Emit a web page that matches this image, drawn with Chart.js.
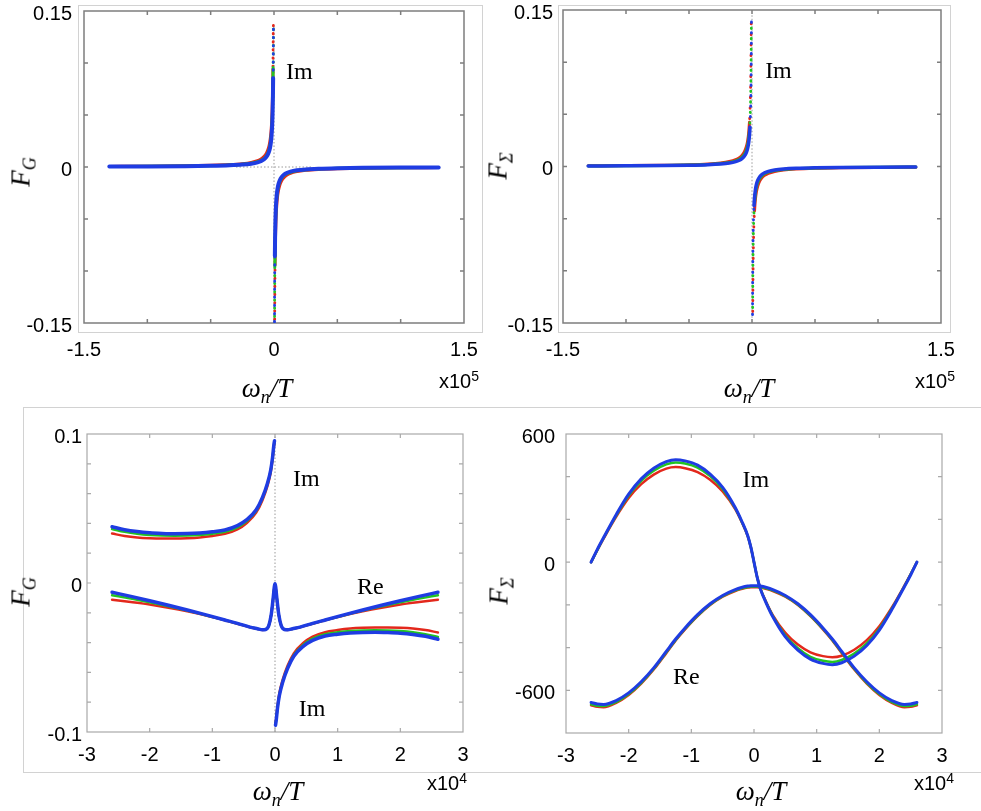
<!DOCTYPE html>
<html><head><meta charset="utf-8">
<script src="https://cdn.jsdelivr.net/npm/chart.js@4.4.1/dist/chart.umd.min.js"></script>
<style>
body{margin:0;background:#fff;width:981px;height:811px;position:relative;overflow:hidden;font-family:"Liberation Sans",Arial,sans-serif;}
canvas{position:absolute;}
.frame{position:absolute;border:1px solid #d2d2d2;box-sizing:border-box;}
.hl{position:absolute;height:0;border-top:1px solid #d2d2d2;}
.vl{position:absolute;width:0;border-left:1px solid #d2d2d2;}
.math{position:absolute;font-family:"Liberation Serif","DejaVu Serif",serif;font-style:italic;font-size:27px;color:#000;white-space:nowrap;line-height:1;transform:translate(-50%,-50%);}
.math sub{font-size:18px;vertical-align:-6px;}
.rot{transform:translate(-50%,-50%) rotate(-90deg);}
.mult{position:absolute;font-size:20px;white-space:nowrap;line-height:1;color:#000;transform:translate(-50%,-50%);}
.mult sup{font-size:14px;vertical-align:7px}
</style></head>
<body>
<div class="frame" style="left:78px;top:5px;width:405px;height:328px"></div>
<div class="frame" style="left:558px;top:5px;width:393px;height:328px"></div>
<div class="hl" style="left:23px;top:407px;width:958px"></div>
<div class="hl" style="left:23px;top:772px;width:958px"></div>
<div class="vl" style="left:23px;top:407px;height:366px"></div>

<canvas id="c1" width="500" height="420" style="left:0;top:-20px"></canvas>
<canvas id="c2" width="491" height="420" style="left:490px;top:-20px"></canvas>
<canvas id="c3" width="490" height="411" style="left:0;top:400px"></canvas>
<canvas id="c4" width="491" height="411" style="left:490px;top:400px"></canvas>

<div class="math" style="left:267px;top:390px">ω<sub>n</sub>/T</div>
<div class="math" style="left:749px;top:390px">ω<sub>n</sub>/T</div>
<div class="math" style="left:278px;top:793px">ω<sub>n</sub>/T</div>
<div class="math" style="left:761px;top:793px">ω<sub>n</sub>/T</div>
<div class="mult" style="left:459px;top:380px">x10<sup>5</sup></div>
<div class="mult" style="left:935px;top:380px">x10<sup>5</sup></div>
<div class="mult" style="left:447px;top:782px">x10<sup>4</sup></div>
<div class="mult" style="left:934px;top:782px">x10<sup>4</sup></div>
<div class="math rot" style="left:23px;top:172px">F<sub>G</sub></div>
<div class="math rot" style="left:500px;top:166px">F<sub>Σ</sub></div>
<div class="math rot" style="left:23px;top:592px">F<sub>G</sub></div>
<div class="math rot" style="left:501px;top:591px">F<sub>Σ</sub></div>

<script>
// ================= DATA =================
// Panel 1 (top-left): F_G, Im part, x in units of 1e5
const p1XNeg = [-1.3, -1.0, -0.7, -0.5, -0.35, -0.25, -0.18, -0.13, -0.1, -0.08, -0.06, -0.045, -0.035, -0.027, -0.02, -0.015, -0.011, -0.0085, -0.0068, -0.0055, -0.0047, -0.0043];
const p1BlueNeg  = [0.00045, 0.00058, 0.00083, 0.00116, 0.00166, 0.00232, 0.00322, 0.00446, 0.0058, 0.00725, 0.00967, 0.0129, 0.0166, 0.0215, 0.029, 0.0387, 0.0527, 0.0682, 0.0853, 0.1055, 0.1234, 0.135];
const p1GreenNeg = [0.0005, 0.00065, 0.00093, 0.0013, 0.00186, 0.0026, 0.00361, 0.005, 0.0065, 0.00813, 0.0108, 0.0144, 0.0186, 0.0241, 0.0325, 0.0433, 0.0591, 0.0765, 0.0956, 0.1182, 0.133, 0.136];
const p1RedNeg   = [0.0006, 0.0008, 0.00114, 0.0016, 0.00229, 0.0032, 0.00444, 0.00615, 0.008, 0.01, 0.0133, 0.0178, 0.0229, 0.0296, 0.04, 0.0533, 0.0727, 0.0941, 0.1176, 0.135, 0.136, 0.1365];
const p1XPos = [0.0043, 0.0047, 0.0055, 0.0068, 0.0085, 0.011, 0.015, 0.02, 0.027, 0.035, 0.045, 0.06, 0.08, 0.1, 0.13, 0.18, 0.25, 0.35, 0.5, 0.7, 1.0, 1.3];
const p1BluePos  = [-0.149, -0.1234, -0.1055, -0.0853, -0.0682, -0.0527, -0.0387, -0.029, -0.0215, -0.0166, -0.0129, -0.00967, -0.00725, -0.0058, -0.00446, -0.00322, -0.00232, -0.00166, -0.00116, -0.00083, -0.00058, -0.00045];
const p1GreenPos = [-0.149, -0.1383, -0.1182, -0.0956, -0.0765, -0.0591, -0.0433, -0.0325, -0.0241, -0.0186, -0.0144, -0.0108, -0.00813, -0.0065, -0.005, -0.00361, -0.0026, -0.00186, -0.0013, -0.00093, -0.00065, -0.0005];
const p1RedPos   = [-0.149, -0.148, -0.1455, -0.1176, -0.0941, -0.0727, -0.0533, -0.04, -0.0296, -0.0229, -0.0178, -0.0133, -0.01, -0.008, -0.00615, -0.00444, -0.0032, -0.00229, -0.0016, -0.00114, -0.0008, -0.0006];
const p1ZeroVX = [0, 0];
const p1ZeroVY = [-0.149, 0.136];
const p1ZeroHX = [-0.3, 0.3];
const p1ZeroHY = [0, 0];
const p1XTickVals = [-1.5, 0, 1.5];
const p1XTickText = ['-1.5', '0', '1.5'];
const p1YTickVals = [-0.15, 0, 0.15];
const p1YTickText = ['-0.15', '0', '0.15'];

// Panel 2 (top-right): F_Sigma, Im part, x in units of 1e5
const p2XNeg = [-1.3, -1.0, -0.7, -0.5, -0.35, -0.25, -0.18, -0.13, -0.1, -0.08, -0.06, -0.045, -0.035, -0.027, -0.02, -0.016, -0.012, -0.009, -0.007, -0.0055, -0.0045, -0.0042];
const p2BlueNeg  = [0.00046, 0.0006, 0.00086, 0.0012, 0.00171, 0.0024, 0.00333, 0.00462, 0.006, 0.0075, 0.01, 0.0133, 0.0171, 0.0222, 0.030, 0.0375, 0.050, 0.0667, 0.0857, 0.109, 0.133, 0.142];
const p2GreenNeg = [0.00054, 0.0007, 0.001, 0.0014, 0.002, 0.0028, 0.00389, 0.00538, 0.007, 0.00875, 0.0117, 0.0156, 0.02, 0.0259, 0.035, 0.0438, 0.0583, 0.0778, 0.1, 0.1273, 0.142, 0.142];
const p2RedNeg   = [0.00065, 0.00085, 0.00121, 0.0017, 0.00243, 0.0034, 0.00472, 0.00654, 0.0085, 0.0106, 0.0142, 0.0189, 0.0243, 0.0315, 0.0425, 0.0531, 0.0708, 0.0944, 0.1214, 0.142, 0.142, 0.142];
const p2XPos = [0.0042, 0.0045, 0.0055, 0.007, 0.009, 0.012, 0.016, 0.02, 0.027, 0.035, 0.045, 0.06, 0.08, 0.1, 0.13, 0.18, 0.25, 0.35, 0.5, 0.7, 1.0, 1.3];
const p2BluePos  = [-0.142, -0.133, -0.109, -0.0857, -0.0667, -0.050, -0.0375, -0.030, -0.0222, -0.0171, -0.0133, -0.01, -0.0075, -0.006, -0.00462, -0.00333, -0.0024, -0.00171, -0.0012, -0.00086, -0.0006, -0.00046];
const p2GreenPos = [-0.142, -0.142, -0.1273, -0.1, -0.0778, -0.0583, -0.0438, -0.035, -0.0259, -0.02, -0.0156, -0.0117, -0.00875, -0.007, -0.00538, -0.00389, -0.0028, -0.002, -0.0014, -0.001, -0.0007, -0.00054];
const p2RedPos   = [-0.142, -0.142, -0.142, -0.1214, -0.0944, -0.0708, -0.0531, -0.0425, -0.0315, -0.0243, -0.0189, -0.0142, -0.0106, -0.0085, -0.00654, -0.00472, -0.0034, -0.00243, -0.0017, -0.00121, -0.00085, -0.00065];
const p2ZeroVX = [0, 0];
const p2ZeroVY = [-0.145, 0.145];
const p2XTickVals = [-1.5, 0, 1.5];
const p2XTickText = ['-1.5', '0', '1.5'];
const p2YTickVals = [-0.15, 0, 0.15];
const p2YTickText = ['-0.15', '0', '0.15'];

// Panel 3 (bottom-left): F_G, x in units of 1e4
const p3XNeg = [-2.6, -2.4, -2.2, -2.0, -1.8, -1.6, -1.4, -1.2, -1.0, -0.8, -0.6, -0.45, -0.3, -0.2, -0.12, -0.07, -0.04, -0.02, -0.008];
const p3ImNegBlue  = [0.0378, 0.0358, 0.0345, 0.0337, 0.0333, 0.0331, 0.0332, 0.0336, 0.0344, 0.0356, 0.0385, 0.0425, 0.0492, 0.0575, 0.0670, 0.0755, 0.0840, 0.0920, 0.0955];
const p3ImNegGreen = [0.0362, 0.0343, 0.0330, 0.0322, 0.0318, 0.0317, 0.0318, 0.0322, 0.0331, 0.0344, 0.0374, 0.0416, 0.0485, 0.0569, 0.0665, 0.0750, 0.0836, 0.0915, 0.0950];
const p3ImNegRed   = [0.0332, 0.0316, 0.0306, 0.0301, 0.0299, 0.0299, 0.0301, 0.0306, 0.0316, 0.0330, 0.0360, 0.0403, 0.0472, 0.0556, 0.0652, 0.0738, 0.0826, 0.0905, 0.0940];
const p3XPos = [0.008, 0.02, 0.04, 0.07, 0.12, 0.2, 0.3, 0.45, 0.6, 0.8, 1.0, 1.2, 1.4, 1.6, 1.8, 2.0, 2.2, 2.4, 2.6];
const p3ImPosBlue  = [-0.0955, -0.0920, -0.0840, -0.0755, -0.0670, -0.0575, -0.0492, -0.0425, -0.0385, -0.0356, -0.0344, -0.0336, -0.0332, -0.0331, -0.0333, -0.0337, -0.0345, -0.0358, -0.0378];
const p3ImPosGreen = [-0.0950, -0.0915, -0.0836, -0.0750, -0.0665, -0.0569, -0.0485, -0.0416, -0.0374, -0.0344, -0.0331, -0.0322, -0.0318, -0.0317, -0.0318, -0.0322, -0.0330, -0.0343, -0.0362];
const p3ImPosRed   = [-0.0940, -0.0905, -0.0826, -0.0738, -0.0652, -0.0556, -0.0472, -0.0403, -0.0360, -0.0330, -0.0316, -0.0306, -0.0301, -0.0299, -0.0299, -0.0301, -0.0306, -0.0316, -0.0332];
const p3XRe = [-2.6, -2.3, -2.0, -1.7, -1.4, -1.1, -0.8, -0.6, -0.4, -0.28, -0.2, -0.15, -0.1, -0.06, -0.03, 0, 0.03, 0.06, 0.1, 0.15, 0.2, 0.28, 0.4, 0.6, 0.8, 1.1, 1.4, 1.7, 2.0, 2.3, 2.6];
const p3ReBlue  = [-0.0062, -0.0090, -0.0119, -0.0149, -0.0181, -0.0214, -0.0248, -0.0271, -0.0296, -0.0307, -0.0314, -0.0312, -0.0287, -0.0212, -0.0105, -0.0005, -0.0105, -0.0212, -0.0287, -0.0312, -0.0314, -0.0307, -0.0296, -0.0271, -0.0248, -0.0214, -0.0181, -0.0149, -0.0119, -0.0090, -0.0062];
const p3ReGreen = [-0.0082, -0.0105, -0.0130, -0.0157, -0.0185, -0.0216, -0.0249, -0.0272, -0.0296, -0.0307, -0.0314, -0.0312, -0.0287, -0.0212, -0.0105, -0.0005, -0.0105, -0.0212, -0.0287, -0.0312, -0.0314, -0.0307, -0.0296, -0.0272, -0.0249, -0.0216, -0.0185, -0.0157, -0.0130, -0.0105, -0.0082];
const p3ReRed   = [-0.0112, -0.0128, -0.0145, -0.0166, -0.0190, -0.0218, -0.0250, -0.0273, -0.0297, -0.0308, -0.0315, -0.0313, -0.0288, -0.0213, -0.0106, -0.0006, -0.0106, -0.0213, -0.0288, -0.0313, -0.0315, -0.0308, -0.0297, -0.0273, -0.0250, -0.0218, -0.0190, -0.0166, -0.0145, -0.0128, -0.0112];
const p3ZeroVX = [0, 0];
const p3ZeroVY = [-0.1, 0.1];
const p3XTickVals = [-3, -2, -1, 0, 1, 2, 3];
const p3XTickText = ['-3', '-2', '-1', '0', '1', '2', '3'];
const p3YTickVals = [-0.1, 0, 0.1];
const p3YTickText = ['-0.1', '0', '0.1'];

// Panel 4 (bottom-right): F_Sigma, x in units of 1e4
const p4X = [-2.6, -2.5, -2.4, -2.2, -2.0, -1.8, -1.6, -1.4, -1.25, -1.1, -0.9, -0.7, -0.5, -0.3, -0.2, -0.1, -0.05, 0, 0.05, 0.1, 0.2, 0.3, 0.5, 0.7, 0.9, 1.1, 1.25, 1.4, 1.6, 1.8, 2.0, 2.2, 2.4, 2.5, 2.6];
const p4ImBlue  = [0, 60, 115, 222, 318, 390, 440, 471, 480, 474, 454, 412, 350, 256, 195, 124, 70, 0, -70, -124, -195, -256, -350, -412, -454, -474, -480, -471, -440, -390, -318, -222, -115, -60, 0];
const p4ImGreen = [0, 57, 113, 218, 312, 381, 428, 458, 467, 462, 443, 403, 343, 253, 193, 123, 70, 0, -70, -123, -193, -253, -343, -403, -443, -462, -467, -458, -428, -381, -312, -218, -113, -57, 0];
const p4ImRed   = [0, 56, 110, 212, 300, 365, 410, 438, 445, 440, 422, 386, 331, 248, 190, 122, 69, 0, -69, -122, -190, -248, -331, -386, -422, -440, -445, -438, -410, -365, -300, -212, -110, -56, 0];
const p4ReBlue  = [-657, -664, -666, -648, -612, -560, -495, -418, -360, -308, -246, -195, -156, -129, -119, -112, -110.5, -110, -110.5, -112, -119, -129, -156, -195, -246, -308, -360, -418, -495, -560, -612, -648, -666, -664, -657];
const p4ReGreen = [-665, -672, -674, -655, -618, -565, -499, -422, -364, -312, -250, -198, -159, -132, -123, -116, -114, -113.5, -114, -116, -123, -132, -159, -198, -250, -312, -364, -422, -499, -565, -618, -655, -674, -672, -665];
const p4ReRed   = [-670, -677, -679, -659, -622, -569, -503, -426, -367, -315, -253, -201, -162, -135, -126, -119, -117.5, -117, -117.5, -119, -126, -135, -162, -201, -253, -315, -367, -426, -503, -569, -622, -659, -679, -677, -670];
const p4XTickVals = [-3, -2, -1, 0, 1, 2, 3];
const p4XTickText = ['-3', '-2', '-1', '0', '1', '2', '3'];
const p4YTickVals = [-600, 0, 600];
const p4YTickText = ['-600', '0', '600'];

// ================= STYLE / HELPERS =================
const BLUE = '#1f3ce2', GREEN = '#22c422', RED = '#e3281c', GREY = '#9a9a9a';

function pts(xs, ys) { return xs.map((x, i) => ({ x: x, y: ys[i] })); }

function series(xs, ys, color, width, extra) {
  return Object.assign({
    data: pts(xs, ys), borderColor: color, backgroundColor: color, borderWidth: width,
    pointRadius: 0, fill: false, cubicInterpolationMode: 'monotone',
    borderCapStyle: 'round', borderJoinStyle: 'round'
  }, extra || {});
}
function tail(thr, dash, offset, w) {
  const isTail = c => Math.abs(c.p0.parsed.y) >= thr && Math.abs(c.p1.parsed.y) >= thr;
  return {
    borderDashOffset: offset,
    segment: {
      borderDash: c => isTail(c) ? dash : undefined,
      borderWidth: c => isTail(c) ? w : undefined
    }
  };
}
function guide(xs, ys) {
  return series(xs, ys, GREY, 1, { borderDash: [1.5, 2], borderCapStyle: 'butt', cubicInterpolationMode: 'default', tension: 0 });
}
function labeler(vals, texts) {
  return v => {
    const i = vals.findIndex(u => Math.abs(u - v) < 1e-9 * Math.max(1, Math.abs(u)));
    return i >= 0 ? texts[i] : '';
  };
}

const framePlugin = {
  id: 'frame',
  beforeDatasetsDraw(chart, args, o) {
    const { ctx, chartArea: a } = chart;
    const sx = chart.scales.x, sy = chart.scales.y;
    ctx.save();
    ctx.strokeStyle = o.color; ctx.lineWidth = o.width;
    ctx.strokeRect(a.left, a.top, a.right - a.left, a.bottom - a.top);
    ctx.beginPath();
    sx.ticks.forEach(t => {
      const p = sx.getPixelForValue(t.value);
      if (p <= a.left + 1 || p >= a.right - 1) return;
      ctx.moveTo(p, a.bottom); ctx.lineTo(p, a.bottom - o.len);
      ctx.moveTo(p, a.top); ctx.lineTo(p, a.top + o.len);
    });
    sy.ticks.forEach(t => {
      const p = sy.getPixelForValue(t.value);
      if (p <= a.top + 1 || p >= a.bottom - 1) return;
      ctx.moveTo(a.left, p); ctx.lineTo(a.left + o.len, p);
      ctx.moveTo(a.right, p); ctx.lineTo(a.right - o.len, p);
    });
    ctx.stroke();
    ctx.restore();
  },
  afterDatasetsDraw(chart, args, o) {
    const { ctx } = chart;
    const sx = chart.scales.x, sy = chart.scales.y;
    ctx.save();
    ctx.fillStyle = '#000';
    ctx.font = '24px "Liberation Serif", "DejaVu Serif", serif';
    ctx.textAlign = 'center'; ctx.textBaseline = 'middle';
    (o.notes || []).forEach(n => ctx.fillText(n.text, sx.getPixelForValue(n.x), sy.getPixelForValue(n.y)));
    ctx.restore();
  }
};

function makeChart(id, c) {
  const tickFont = { family: '"Liberation Sans", Arial, sans-serif', size: 20, lineHeight: 1 };
  return new Chart(document.getElementById(id), {
    type: 'line',
    data: { datasets: c.datasets },
    options: {
      responsive: false, animation: false, devicePixelRatio: 1, events: [],
      layout: { padding: c.padding },
      plugins: { legend: { display: false }, tooltip: { enabled: false },
        frame: { color: c.boxColor, width: c.boxWidth, len: 4, notes: c.notes } },
      scales: {
        x: { type: 'linear', min: c.xmin, max: c.xmax,
          ticks: { stepSize: c.xstep, autoSkip: false, maxRotation: 0, padding: c.xpad, color: '#000', font: tickFont,
            callback: labeler(c.xVals, c.xText) },
          grid: { display: false, drawTicks: false }, border: { display: false },
          afterFit: s => { s.height = 50; } },
        y: { type: 'linear', min: c.ymin, max: c.ymax,
          ticks: { stepSize: c.ystep, autoSkip: false, padding: c.ypad, labelOffset: 3, color: '#000', font: tickFont,
            callback: labeler(c.yVals, c.yText) },
          grid: { display: false, drawTicks: false }, border: { display: false },
          afterFit: s => { s.width = c.yw; } }
      }
    },
    plugins: [framePlugin]
  });
}

// ================= CHARTS =================
makeChart('c1', {
  padding: { left: 14, right: 36, top: 31, bottom: 27 }, yw: 70, xpad: 17, ypad: 12,
  xmin: -1.5, xmax: 1.5, xstep: 0.5, ymin: -0.15, ymax: 0.15, ystep: 0.05,
  xVals: p1XTickVals, xText: p1XTickText, yVals: p1YTickVals, yText: p1YTickText,
  boxColor: '#7d7d7d', boxWidth: 1.5,
  notes: [{ text: 'Im', x: 0.2, y: 0.091 }],
  datasets: [
    series(p1XNeg, p1BlueNeg, BLUE, 4, tail(0.085, [0.5, 7.6], 0, 2.8)),
    series(p1XPos, p1BluePos, BLUE, 4, tail(0.085, [0.5, 7.6], 0, 2.8)),
    series(p1XNeg, p1GreenNeg, GREEN, 3, tail(0.085, [0.5, 7.6], 2.7, 2.8)),
    series(p1XPos, p1GreenPos, GREEN, 3, tail(0.085, [0.5, 7.6], 2.7, 2.8)),
    series(p1XNeg, p1RedNeg, RED, 3, tail(0.085, [0.5, 7.6], 5.4, 2.8)),
    series(p1XPos, p1RedPos, RED, 3, tail(0.085, [0.5, 7.6], 5.4, 2.8)),
    guide(p1ZeroVX, p1ZeroVY),
    guide(p1ZeroHX, p1ZeroHY)
  ]
});

makeChart('c2', {
  padding: { left: 11, right: 40, top: 30, bottom: 27 }, yw: 62, xpad: 17, ypad: 10,
  xmin: -1.5, xmax: 1.5, xstep: 0.5, ymin: -0.15, ymax: 0.15, ystep: 0.05,
  xVals: p2XTickVals, xText: p2XTickText, yVals: p2YTickVals, yText: p2YTickText,
  boxColor: '#7d7d7d', boxWidth: 1.5,
  notes: [{ text: 'Im', x: 0.21, y: 0.091 }],
  datasets: [
    series(p2XNeg, p2BlueNeg, BLUE, 3.5, tail(0.035, [0.5, 10], 0, 2.8)),
    series(p2XPos, p2BluePos, BLUE, 3.5, tail(0.035, [0.5, 10], 0, 2.8)),
    series(p2XNeg, p2GreenNeg, GREEN, 3, tail(0.035, [0.5, 10], 3.5, 2.8)),
    series(p2XPos, p2GreenPos, GREEN, 3, tail(0.035, [0.5, 10], 3.5, 2.8)),
    series(p2XNeg, p2RedNeg, RED, 3, tail(0.035, [0.5, 10], 7, 2.8)),
    series(p2XPos, p2RedPos, RED, 3, tail(0.035, [0.5, 10], 7, 2.8)),
    guide(p2ZeroVX, p2ZeroVY)
  ]
});

makeChart('c3', {
  padding: { left: 27, right: 27, top: 34, bottom: 29 }, yw: 60, xpad: 13, ypad: 5,
  xmin: -3, xmax: 3, xstep: 1, ymin: -0.1, ymax: 0.1, ystep: 0.02,
  xVals: p3XTickVals, xText: p3XTickText, yVals: p3YTickVals, yText: p3YTickText,
  boxColor: '#a9a9a9', boxWidth: 1.2,
  notes: [{ text: 'Im', x: 0.5, y: 0.069 }, { text: 'Re', x: 1.52, y: -0.003 }, { text: 'Im', x: 0.59, y: -0.085 }],
  datasets: [
    series(p3XNeg, p3ImNegBlue, BLUE, 3.5),
    series(p3XPos, p3ImPosBlue, BLUE, 3.5),
    series(p3XRe, p3ReBlue, BLUE, 3.5),
    series(p3XNeg, p3ImNegGreen, GREEN, 2.5),
    series(p3XPos, p3ImPosGreen, GREEN, 2.5),
    series(p3XRe, p3ReGreen, GREEN, 2.5),
    series(p3XNeg, p3ImNegRed, RED, 2.5),
    series(p3XPos, p3ImPosRed, RED, 2.5),
    series(p3XRe, p3ReRed, RED, 2.5),
    guide(p3ZeroVX, p3ZeroVY)
  ]
});

makeChart('c4', {
  padding: { left: 16, right: 39, top: 34, bottom: 28 }, yw: 60, xpad: 13, ypad: 11,
  xmin: -3, xmax: 3, xstep: 1, ymin: -800, ymax: 600, ystep: 200,
  xVals: p4XTickVals, xText: p4XTickText, yVals: p4YTickVals, yText: p4YTickText,
  boxColor: '#a9a9a9', boxWidth: 1.2,
  notes: [{ text: 'Im', x: 0.03, y: 380 }, { text: 'Re', x: -1.08, y: -543 }],
  datasets: [
    series(p4X, p4ImBlue, BLUE, 3),
    series(p4X, p4ReBlue, BLUE, 3),
    series(p4X, p4ImGreen, GREEN, 2.5),
    series(p4X, p4ReGreen, GREEN, 2.5),
    series(p4X, p4ImRed, RED, 2.5),
    series(p4X, p4ReRed, RED, 2.5)
  ]
});
</script>
</body></html>
